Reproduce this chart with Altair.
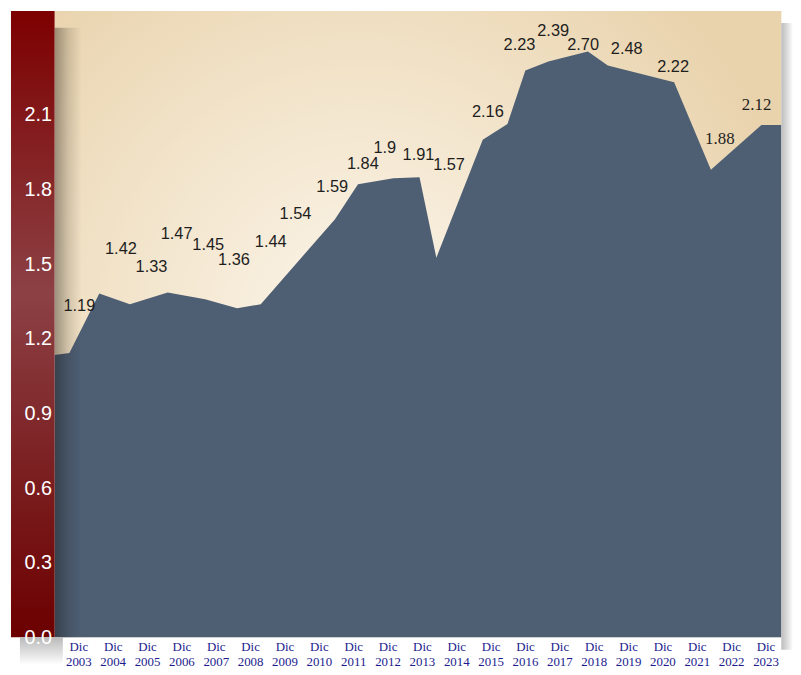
import json
import altair as alt
import pandas as pd

# ---- data ----
years = [2003 + i for i in range(21)]
month = "Dic"
y_ticks = [0.0, 0.3, 0.6, 0.9, 1.2, 1.5, 1.8, 2.1]

# area outline (position in category units, 0 = Dic 2003)
area_pos = [-0.69, -0.26, 0.61, 1.50, 2.60, 3.69, 4.62, 5.31, 7.47, 8.14, 9.17,
            9.93, 10.42, 11.77, 12.49, 13.01, 13.68, 14.83, 15.41, 17.34, 18.41,
            19.88, 20.46]
area_val = [1.135, 1.143, 1.382, 1.339, 1.386, 1.359, 1.323, 1.339, 1.681, 1.821,
            1.845, 1.849, 1.526, 2.000, 2.064, 2.279, 2.315, 2.355, 2.299, 2.231,
            1.880, 2.060, 2.060]

# value labels
label_text = ["1.19", "1.42", "1.33", "1.47", "1.45", "1.36", "1.44", "1.54", "1.59",
              "1.84", "1.9", "1.91", "1.57", "2.16", "2.23", "2.39", "2.70", "2.48",
              "2.22", "1.88", "2.12"]
label_pos = [0.03, 1.24, 2.13, 2.86, 3.78, 4.53, 5.60, 6.32, 7.39, 8.28, 8.92, 9.90,
             10.79, 11.92, 12.84, 13.82, 14.69, 15.96, 17.31, 18.67, 19.74]
label_level = [1.331, 1.562, 1.490, 1.622, 1.578, 1.518, 1.590, 1.701, 1.809, 1.904,
               1.968, 1.940, 1.900, 2.112, 2.382, 2.438, 2.382, 2.363, 2.291, 2.004,
               2.139]

XMIN, XMAX = -1.96, 20.80
PLOT_L, PLOT_R = -0.69, 20.46
YMAX = 2.518

xs = alt.Scale(domain=[XMIN, XMAX], nice=False, zero=False)
ys = alt.Scale(domain=[0, YMAX], nice=False, zero=True)

xlabels = [[month, str(y)] for y in years]
AX = alt.Axis(
    values=list(range(len(years))), labelExpr=json.dumps(xlabels) + "[round(datum.value)]",
    domain=False, ticks=False, grid=False, title=None, labelFont="Liberation Serif",
    labelFontSize=13, labelColor="#1c1c8e", labelPadding=3, labelLineHeight=15,
    labelBaseline="top", labelFlush=False, labelOverlap=False, zindex=1)
AY = alt.Axis(
    values=y_ticks, format=".1f", domain=False, ticks=False, tickSize=0, grid=False,
    title=None, labelFont="Liberation Sans", labelFontSize=20, labelColor="#ffffff",
    labelPadding=0, offset=-41, labelAlign="right", zindex=1)


def band(x0, x1, y0, y1, fill):
    df = pd.DataFrame({"x0": [x0], "x1": [x1], "y0": [y0], "y1": [y1]})
    return alt.Chart(df).mark_rect(color=fill, strokeWidth=0).encode(
        x=alt.X("x0:Q", scale=xs, axis=AX), x2="x1",
        y=alt.Y("y0:Q", scale=ys, axis=AY), y2="y1")


def lin(stops, x2=0, y2=1):
    return alt.Gradient(gradient="linear", x1=0, y1=0, x2=x2, y2=y2,
                        stops=[alt.GradientStop(offset=o, color=c) for o, c in stops])


beige = band(PLOT_L, PLOT_R, 0, YMAX, alt.Gradient(
    gradient="radial", x1=0.42, y1=0.50, r1=0, x2=0.42, y2=0.50, r2=0.62,
    stops=[alt.GradientStop(offset=0, color="#fbf5ea"),
           alt.GradientStop(offset=0.45, color="#f4e7d0"),
           alt.GradientStop(offset=1, color="#e9d3ad")]))

area_df = pd.DataFrame({"pos": area_pos, "val": area_val})
area = alt.Chart(area_df).mark_area(color="#4e5f74", interpolate="linear").encode(
    x=alt.X("pos:Q", scale=xs, axis=AX),
    y=alt.Y("val:Q", scale=ys, axis=AY),
)

bar_shadow = band(PLOT_L, 0.10, 0, 2.45, lin(
    [(0, "rgba(20,15,10,0.38)"), (0.5, "rgba(20,15,10,0.14)"), (1, "rgba(20,15,10,0)")],
    x2=1, y2=0))
red_bar = band(XMIN, PLOT_L, 0, YMAX, lin(
    [(0, "#7d0000"), (0.45, "#8c4145"), (1, "#6c0000")]))
right_shadow = band(PLOT_R, XMAX, -0.05, 2.47, lin(
    [(0, "#bdbdbd"), (0.6, "#e2e2e2"), (1, "#ffffff")], x2=1, y2=0))
bottom_shadow = band(-1.7, -0.45, -0.11, 0, lin(
    [(0, "#b9b9b9"), (1, "#ffffff")]))

lab_df = pd.DataFrame({"pos": label_pos, "lvl": label_level, "txt": label_text})
sans_labels = alt.Chart(lab_df.iloc[:19]).mark_text(
    font="Liberation Sans", fontSize=16.5, color="#1e1e1e", align="center",
    baseline="middle").encode(
    x=alt.X("pos:Q", scale=xs, axis=AX), y=alt.Y("lvl:Q", scale=ys, axis=AY), text="txt:N")
serif_labels = alt.Chart(lab_df.iloc[19:]).mark_text(
    font="Liberation Serif", fontSize=17, color="#1e1e1e", align="center",
    baseline="middle").encode(
    x=alt.X("pos:Q", scale=xs, axis=AX), y=alt.Y("lvl:Q", scale=ys, axis=AY), text="txt:N")

chart = alt.layer(
    beige, area, bar_shadow, red_bar, right_shadow, bottom_shadow, sans_labels, serif_labels
).properties(
    width=789, height=632, autosize="none",
    padding={"left": 3, "top": 0, "right": 0, "bottom": 34},
    background="#ffffff",
).configure_view(stroke=None)

chart.save("out.html", embed_options={"renderer": "svg", "actions": False})
